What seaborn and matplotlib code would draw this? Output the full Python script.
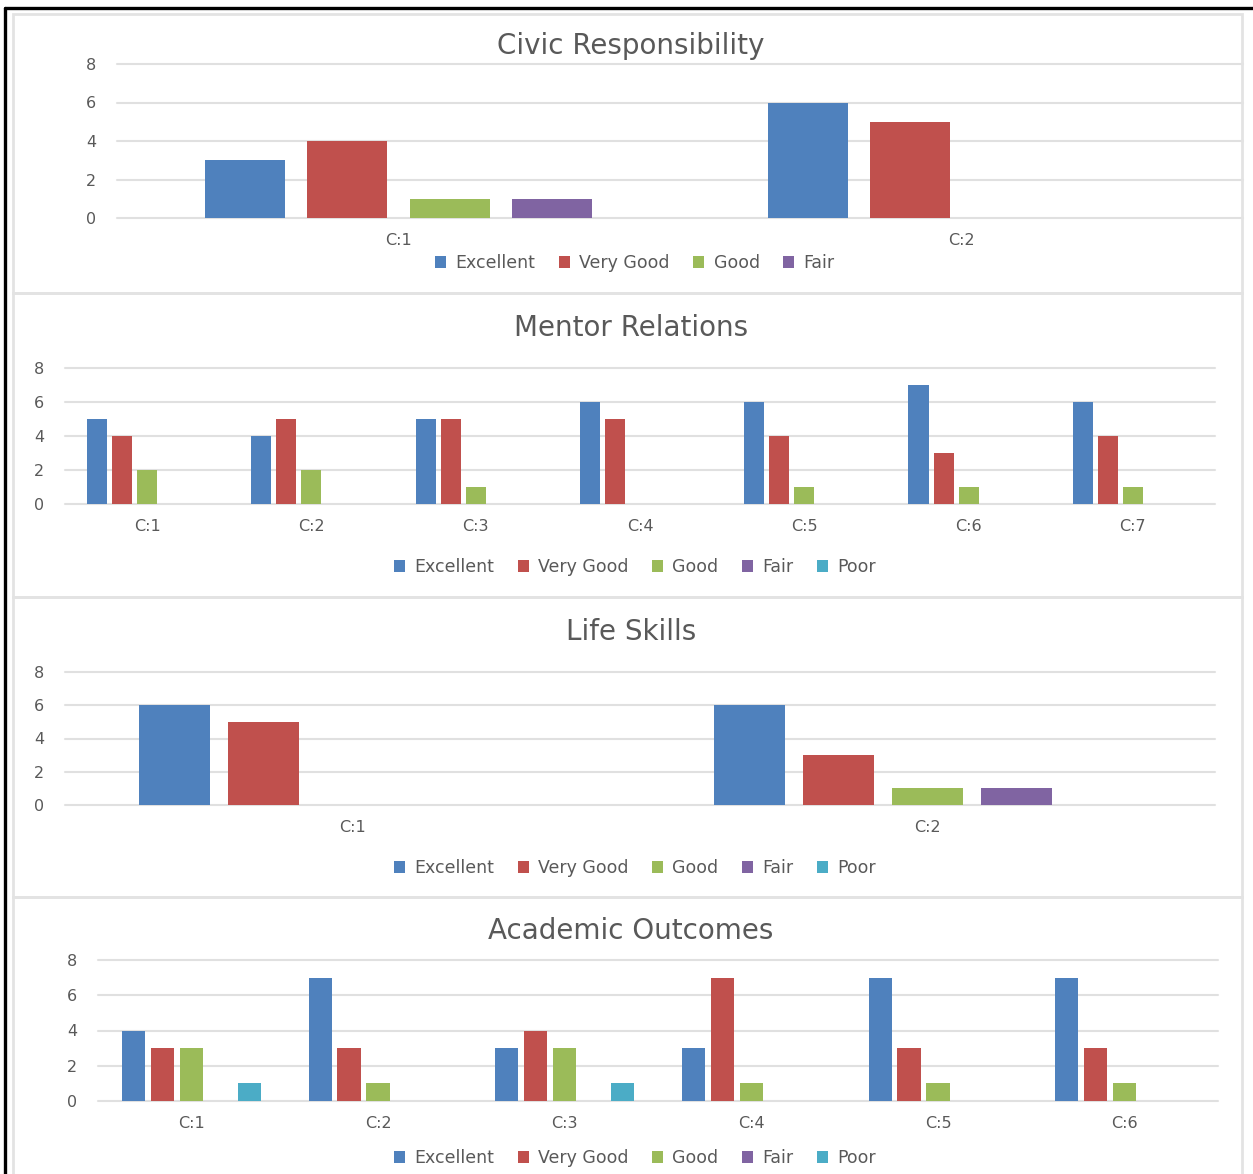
import matplotlib
matplotlib.use("Agg")
import matplotlib.pyplot as plt
from matplotlib.patches import Rectangle, Patch
from matplotlib.lines import Line2D
import seaborn as sns
import pandas as pd

# ---------------- data ----------------
ratings_all = ["Excellent", "Very Good", "Good", "Fair", "Poor"]
colors_all = ["#4F81BD", "#C0504D", "#9BBB59", "#8064A2", "#4BACC6"]

civic_title = "Civic Responsibility"
civic_cats = ["C:1", "C:2"]
civic_ratings = ["Excellent", "Very Good", "Good", "Fair"]
civic_excellent = [3, 6]
civic_verygood = [4, 5]
civic_good = [1, 0]
civic_fair = [1, 0]

mentor_title = "Mentor Relations"
mentor_cats = ["C:1", "C:2", "C:3", "C:4", "C:5", "C:6", "C:7"]
mentor_excellent = [5, 4, 5, 6, 6, 7, 6]
mentor_verygood = [4, 5, 5, 5, 4, 3, 4]
mentor_good = [2, 2, 1, 0, 1, 1, 1]
mentor_fair = [0, 0, 0, 0, 0, 0, 0]
mentor_poor = [0, 0, 0, 0, 0, 0, 0]

life_title = "Life Skills"
life_cats = ["C:1", "C:2"]
life_excellent = [6, 6]
life_verygood = [5, 3]
life_good = [0, 1]
life_fair = [0, 1]
life_poor = [0, 0]

acad_title = "Academic Outcomes"
acad_cats = ["C:1", "C:2", "C:3", "C:4", "C:5", "C:6"]
acad_excellent = [4, 7, 3, 3, 7, 7]
acad_verygood = [3, 3, 4, 7, 3, 3]
acad_good = [3, 1, 3, 1, 1, 1]
acad_fair = [0, 0, 0, 0, 0, 0]
acad_poor = [1, 0, 1, 0, 0, 0]

y_ticks = [0, 2, 4, 6, 8]

def long_df(cats, series):
    rows = []
    for name, vals in series.items():
        for c, v in zip(cats, vals):
            rows.append({"cat": c, "rating": name, "value": v})
    return pd.DataFrame(rows)

panels = [
    dict(title=civic_title, cats=civic_cats, ratings=civic_ratings,
         df=long_df(civic_cats, {"Excellent": civic_excellent, "Very Good": civic_verygood,
                                 "Good": civic_good, "Fair": civic_fair}),
         ax_px=(117, 1243, 64, 218), title_y=46, legend_y=263,
         panel_px=(13, 14, 1242, 293), width=0.725, gap=0.216),
    dict(title=mentor_title, cats=mentor_cats, ratings=ratings_all,
         df=long_df(mentor_cats, {"Excellent": mentor_excellent, "Very Good": mentor_verygood,
                                  "Good": mentor_good, "Fair": mentor_fair, "Poor": mentor_poor}),
         ax_px=(65, 1215, 368, 504), title_y=328, legend_y=567,
         panel_px=(13, 293, 1242, 597), width=0.762, gap=0.2),
    dict(title=life_title, cats=life_cats, ratings=ratings_all,
         df=long_df(life_cats, {"Excellent": life_excellent, "Very Good": life_verygood,
                                "Good": life_good, "Fair": life_fair, "Poor": life_poor}),
         ax_px=(65, 1215, 672, 805), title_y=632, legend_y=868,
         panel_px=(13, 597, 1242, 897), width=0.774, gap=0.21),
    dict(title=acad_title, cats=acad_cats, ratings=ratings_all,
         df=long_df(acad_cats, {"Excellent": acad_excellent, "Very Good": acad_verygood,
                                "Good": acad_good, "Fair": acad_fair, "Poor": acad_poor}),
         ax_px=(98, 1218, 960, 1101), title_y=931, legend_y=1158,
         panel_px=(13, 897, 1242, 1190), width=0.775, gap=0.2),
]

# ---------------- style ----------------
sns.set_theme(style="white")
plt.rcParams["font.family"] = ["DejaVu Sans"]
TXT = "#595959"
GRID = "#E0E0E0"

W, H = 1253, 1174
fig = plt.figure(figsize=(W / 100, H / 100), dpi=100)

def fx(px):
    return px / W

def fy(py):
    return 1 - py / H

# outer black frame (top and left only visible)
fig.add_artist(Line2D([fx(5), fx(5)], [fy(8), fy(H + 5)], color="black", lw=2.4,
                      transform=fig.transFigure))
fig.add_artist(Line2D([fx(5), fx(W + 5)], [fy(8), fy(8)], color="black", lw=2.4,
                      transform=fig.transFigure))

for p in panels:
    x0, y0, x1, y1 = p["panel_px"]
    fig.add_artist(Rectangle((fx(x0), fy(y1)), fx(x1) - fx(x0), fy(y0) - fy(y1),
                             transform=fig.transFigure, fill=False,
                             edgecolor="#E3E3E3", lw=2.0))

    l, r, t, b = p["ax_px"]
    ax = fig.add_axes([fx(l), fy(b), fx(r) - fx(l), fy(t) - fy(b)])
    pal = [colors_all[ratings_all.index(k)] for k in p["ratings"]]
    sns.barplot(data=p["df"], x="cat", y="value", hue="rating",
                order=p["cats"], hue_order=p["ratings"], palette=pal,
                width=p["width"], gap=p["gap"], saturation=1, ax=ax,
                legend=False, linewidth=0, err_kws={"linewidth": 0})
    ax.set_xlim(-0.5, len(p["cats"]) - 0.5)
    ax.set_ylim(0, 8)
    ax.set_yticks(y_ticks)
    ax.set_yticklabels([str(v) for v in y_ticks])
    ax.set_xlabel("")
    ax.set_ylabel("")
    for s in ax.spines.values():
        s.set_visible(False)
    ax.set_axisbelow(True)
    ax.yaxis.grid(True, color=GRID, lw=1.5)
    for gl in ax.get_ygridlines():
        gl.set_clip_on(False)
    ax.tick_params(axis="y", length=0, pad=15, labelsize=11.5, labelcolor=TXT)
    ax.tick_params(axis="x", length=0, pad=11, labelsize=11.5, labelcolor=TXT)

    fig.text(fx(631), fy(p["title_y"]), p["title"], ha="center", va="center",
             fontsize=20, color=TXT)

    handles = [Patch(facecolor=c, edgecolor="none") for c in pal]
    leg = fig.legend(handles, p["ratings"], loc="center",
                     bbox_to_anchor=(fx(635), fy(p["legend_y"])),
                     ncol=len(p["ratings"]), frameon=False, fontsize=12.5, labelcolor=TXT,
                     handlelength=0.62, handleheight=0.62, handletextpad=0.55,
                     columnspacing=1.35, borderaxespad=0, borderpad=0)

fig.savefig("out.png", dpi=100, facecolor="white")
